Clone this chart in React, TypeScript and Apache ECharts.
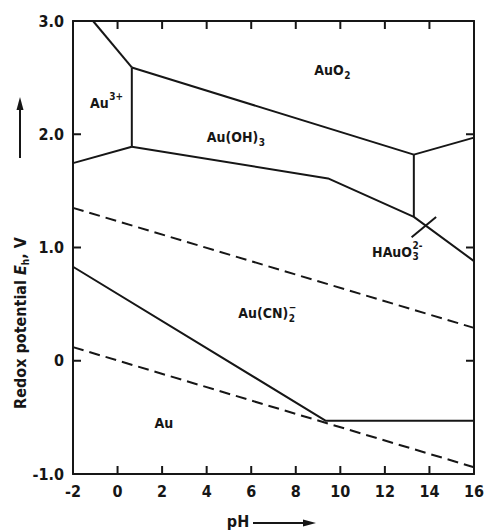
import React, { useEffect, useRef } from "react";
import * as echarts from "echarts";

// Axis ranges (pH on x, redox potential E_h in V on y)
const PH_MIN = -2;
const PH_MAX = 16;
const PH_STEP = 2;
const E_MIN = -1;
const E_MAX = 3;
const E_STEP = 1;

// Tick positions along the frame
const phTicks = [0, 2, 4, 6, 8, 10, 12, 14];
const eTicks = [0, 1, 2];

// Stability-field boundaries of the Au–H2O–CN system, points as [pH, E_h]
const au3ToAuO2 = [[-1.1, 3.0], [0.64, 2.59]];
const auO2ToAuOH3 = [[0.64, 2.59], [13.3, 1.82]];
const auO2ToHAuO3 = [[13.3, 1.82], [16, 1.97]];
const au3ToAuOH3 = [[0.64, 2.59], [0.64, 1.89]];
const au3ToAu = [[-2, 1.745], [0.64, 1.89]];
const auOH3ToAu = [[0.64, 1.89], [9.45, 1.61], [13.3, 1.27], [16, 0.88]];
const auOH3ToHAuO3 = [[13.3, 1.82], [13.3, 1.27]];
const hauo3Cross = [[13.2, 1.09], [14.3, 1.27]];
const cyanideToAu = [[-2, 0.83], [9.35, -0.53], [16, -0.53]];

// Water stability limits (dashed)
const oxygenLimit = [[-2, 1.35], [16, 0.29]];
const hydrogenLimit = [[-2, 0.12], [16, -0.94]];

// Species names: main text, optional sub/superscript, anchor [pH, E_h]
const speciesMain = ["Au", "AuO", "Au(OH)", "HAuO", "Au(CN)", "Au"];
const speciesSub = ["", "2", "3", "3", "2", ""];
const speciesSup = ["3+", "", "", "2-", "−", ""];
const speciesAt = [
  [-0.4, 2.28],
  [10.15, 2.565],
  [6.32, 1.973],
  [13.22, 0.963],
  [7.66, 0.42],
  [2.08, -0.55],
];

const FONT = '"DejaVu Sans Condensed", "DejaVu Sans", sans-serif';
const INK = "#161616";
const TICK_LEN = 8;

export default function App() {
  const ref = useRef<HTMLDivElement>(null);

  useEffect(() => {
    if (!ref.current) return;
    const chart = echarts.init(ref.current, null, { renderer: "svg" });

    const solid = (name: string, data: number[][]) => ({
      name,
      type: "line",
      data,
      showSymbol: false,
      silent: true,
      lineStyle: { color: INK, width: 2 },
      z: 3,
    });
    const dashed = (name: string, data: number[][]) => ({
      ...solid(name, data),
      lineStyle: { color: INK, width: 2, type: [11, 6] },
    });

    const axisCommon = {
      type: "value",
      axisLine: { show: true, onZero: false, lineStyle: { color: INK, width: 2 } },
      axisTick: { show: false },
      splitLine: { show: false },
    };

    const tickLabel = {
      color: INK,
      fontFamily: FONT,
      fontWeight: "bold",
      fontSize: 16,
      margin: 9,
    };

    chart.setOption({
      animation: false,
      backgroundColor: "#ffffff",
      grid: { left: 73, right: 10, top: 21, bottom: 58 },
      xAxis: [
        {
          ...axisCommon,
          min: PH_MIN,
          max: PH_MAX,
          interval: PH_STEP,
          position: "bottom",
          axisLabel: tickLabel,
        },
        {
          ...axisCommon,
          min: PH_MIN,
          max: PH_MAX,
          interval: PH_STEP,
          position: "top",
          axisLabel: { show: false },
        },
      ],
      yAxis: [
        {
          ...axisCommon,
          min: E_MIN,
          max: E_MAX,
          interval: E_STEP,
          position: "left",
          axisLabel: {
            ...tickLabel,
            formatter: (v: number) => (v === 0 ? "0" : v.toFixed(1)),
          },
        },
        {
          ...axisCommon,
          min: E_MIN,
          max: E_MAX,
          interval: E_STEP,
          position: "right",
          axisLabel: { show: false },
        },
      ],
      series: [
        solid("Au3+/AuO2", au3ToAuO2),
        solid("AuO2/Au(OH)3", auO2ToAuOH3),
        solid("AuO2/HAuO3", auO2ToHAuO3),
        solid("Au3+/Au(OH)3", au3ToAuOH3),
        solid("Au3+/Au", au3ToAu),
        solid("Au(OH)3/Au", auOH3ToAu),
        solid("Au(OH)3/HAuO3", auOH3ToHAuO3),
        solid("HAuO3 mark", hauo3Cross),
        solid("Au(CN)2/Au", cyanideToAu),
        dashed("O2/H2O", oxygenLimit),
        dashed("H2O/H2", hydrogenLimit),
      ],
    });

    const toPx = (p: number[]) => chart.convertToPixel({ gridIndex: 0 }, p) as number[];

    // Inward tick marks on all four sides of the frame
    const tickGraphics: any[] = [];
    phTicks.forEach((ph) => {
      const [x, yb] = toPx([ph, E_MIN]);
      const [, yt] = toPx([ph, E_MAX]);
      tickGraphics.push({
        type: "rect",
        z: 50,
        shape: { x: x - 1, y: yb - TICK_LEN, width: 2, height: TICK_LEN },
        style: { fill: INK },
      });
      tickGraphics.push({
        type: "rect",
        z: 50,
        shape: { x: x - 1, y: yt, width: 2, height: TICK_LEN },
        style: { fill: INK },
      });
    });
    eTicks.forEach((e) => {
      const [xl, y] = toPx([PH_MIN, e]);
      const [xr] = toPx([PH_MAX, e]);
      tickGraphics.push({
        type: "rect",
        z: 50,
        shape: { x: xl, y: y - 1, width: TICK_LEN, height: 2 },
        style: { fill: INK },
      });
      tickGraphics.push({
        type: "rect",
        z: 50,
        shape: { x: xr - TICK_LEN, y: y - 1, width: TICK_LEN, height: 2 },
        style: { fill: INK },
      });
    });

    // Species labels placed through the grid's coordinate system
    const labelFont = { fontFamily: FONT, fontWeight: "bold", fill: INK };
    const speciesGraphics: any[] = [];
    speciesMain.forEach((main, i) => {
      const [px, py] = toPx(speciesAt[i]);
      const sub = speciesSub[i];
      const sup = speciesSup[i];
      const plain = !sub && !sup;
      speciesGraphics.push({
        type: "text",
        x: px,
        y: py,
        style: {
          ...labelFont,
          text: main,
          fontSize: 14,
          align: plain ? "center" : "right",
          verticalAlign: "middle",
        },
      });
      if (sup) {
        speciesGraphics.push({
          type: "text",
          x: px + 0.5,
          y: py - 6,
          style: { ...labelFont, text: sup, fontSize: 10, align: "left", verticalAlign: "middle" },
        });
      }
      if (sub) {
        speciesGraphics.push({
          type: "text",
          x: px + 0.5,
          y: py + 5,
          style: { ...labelFont, text: sub, fontSize: 10, align: "left", verticalAlign: "middle" },
        });
      }
    });

    chart.setOption({
      graphic: [
        ...tickGraphics,
        ...speciesGraphics,
        // y-axis title with arrow
        {
          type: "text",
          x: 20,
          y: 323,
          rotation: Math.PI / 2,
          style: {
            text: "{n|Redox potential }{e|E}{h|h}{n|, V}",
            align: "center",
            verticalAlign: "middle",
            rich: {
              n: { ...labelFont, fontSize: 16, lineHeight: 20, verticalAlign: "middle" },
              e: { ...labelFont, fontSize: 16, fontStyle: "italic", lineHeight: 20, verticalAlign: "middle" },
              h: { ...labelFont, fontSize: 10, lineHeight: 20, verticalAlign: "bottom" },
            },
          },
        },
        {
          type: "line",
          shape: { x1: 20, y1: 158, x2: 20, y2: 108 },
          style: { stroke: INK, lineWidth: 2 },
        },
        {
          type: "polygon",
          shape: { points: [[20, 97], [16.5, 110], [23.5, 110]] },
          style: { fill: INK },
        },
        // x-axis title with arrow
        {
          type: "text",
          x: 238,
          y: 521,
          style: { ...labelFont, text: "pH", fontSize: 16, align: "center", verticalAlign: "middle" },
        },
        {
          type: "line",
          shape: { x1: 253, y1: 523, x2: 305, y2: 523 },
          style: { stroke: INK, lineWidth: 2 },
        },
        {
          type: "polygon",
          shape: { points: [[316, 523], [303, 519.5], [303, 526.5]] },
          style: { fill: INK },
        },
      ],
    });

    return () => chart.dispose();
  }, []);

  return (
    <div
      ref={ref}
      style={{ position: "absolute", left: 0, top: 0, width: 487, height: 532 }}
    />
  );
}
